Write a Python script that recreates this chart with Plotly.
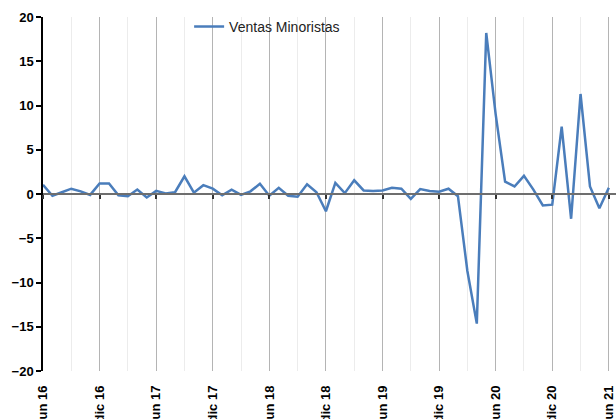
import plotly.graph_objects as go

meses = ["ene", "feb", "mar", "abr", "may", "jun", "jul", "ago", "sep", "oct", "nov", "dic"]
# Monthly categories from jun 16 to jun 21
categorias = [f"{meses[(5 + k) % 12]} {16 + (5 + k) // 12}" for k in range(61)]

ventas_minoristas = [
    1.05, -0.2, 0.2, 0.6, 0.3, -0.1, 1.2, 1.2, -0.15, -0.25,
    0.5, -0.4, 0.35, 0.05, 0.2, 2.0, 0.15, 1.0, 0.6, -0.15,
    0.5, -0.1, 0.3, 1.15, -0.2, 0.7, -0.2, -0.3, 1.1, 0.2,
    -1.95, 1.25, 0.1, 1.55, 0.4, 0.35, 0.4, 0.7, 0.6, -0.55,
    0.55, 0.35, 0.25, 0.6, -0.25, -8.7, -14.65, 18.2, 9.0, 1.4,
    0.85, 2.05, 0.5, -1.3, -1.2, 7.6, -2.8, 11.3, 0.85, -1.6,
    0.7,
]

serie_nombre = "Ventas Minoristas"
x_idx = list(range(len(categorias)))
tick_idx = x_idx[::6]
tick_txt = [categorias[i] for i in tick_idx]
y_ticks = [-20, -15, -10, -5, 0, 5, 10, 15, 20]

x_range = [0, 60.76]
FONT = "Liberation Sans, Arial, sans-serif"

fig = go.Figure()
fig.add_trace(go.Scatter(
    x=x_idx, y=ventas_minoristas, mode="lines", name=serie_nombre,
    line=dict(color="#4a7dbb", width=2.5),
))
# invisible helper trace on the zero-crossing axis
fig.add_trace(go.Scatter(
    x=[x_idx[0]], y=[0], xaxis="x2", mode="markers",
    marker=dict(opacity=0), showlegend=False, hoverinfo="skip",
))

fig.update_layout(
    width=616, height=419, autosize=False,
    margin=dict(l=43, r=0, t=17, b=48, autoexpand=False),
    paper_bgcolor="white", plot_bgcolor="white",
    font=dict(family=FONT, color="black"),
    showlegend=True,
    legend=dict(
        x=0.255, y=0.972, xanchor="left", yanchor="middle",
        bgcolor="rgba(0,0,0,0)", font=dict(size=14, color="#222"),
        itemwidth=30,
    ),
    xaxis=dict(
        range=x_range, tickmode="array", tickvals=tick_idx, ticktext=tick_txt,
        tickangle=-90, tickfont=dict(size=13, color="black", family=FONT, weight="bold"),
        showgrid=True, gridcolor="#b4b4b4", gridwidth=1,
        minor=dict(showgrid=True, gridcolor="#ececec", gridwidth=1,
                   tickmode="linear", tick0=0, dtick=3),
        showline=False, zeroline=False, ticks="", ticklabelstandoff=11,
        automargin=False, ticklabeloverflow="allow",
    ),
    xaxis2=dict(
        range=x_range, overlaying="x", anchor="free", position=0.5,
        side="bottom", showline=True, linecolor="#6e6e6e", linewidth=2,
        ticks="outside", ticklen=4, tickwidth=1.5, tickcolor="#333",
        tickmode="array", tickvals=tick_idx, showticklabels=False,
        showgrid=False, zeroline=False, automargin=False,
    ),
    yaxis=dict(
        range=[-20, 20], tickmode="array", tickvals=y_ticks,
        tickfont=dict(size=13, color="black", family=FONT, weight="bold"),
        showgrid=False, zeroline=False,
        showline=True, linecolor="black", linewidth=1.5,
        ticks="outside", ticklen=5, tickcolor="black", tickwidth=1.5,
        domain=[0, 1], automargin=False,
    ),
)

# remove the page's default body margin so the figure fills the window exactly
post_js = "document.body.style.margin='0';document.body.style.overflow='hidden';"
fig.write_html("out.html", post_script=post_js,
               config={"displayModeBar": False, "responsive": False})
